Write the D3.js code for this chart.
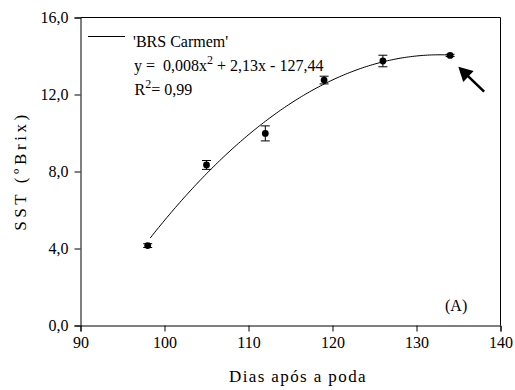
<!DOCTYPE html>
<html>
<head>
<meta charset="utf-8">
<script src="https://cdn.jsdelivr.net/npm/d3@7"></script>
<style>
  html, body { margin: 0; padding: 0; background: #fff; }
  svg text { font-family: "Liberation Serif", "Times New Roman", serif; fill: #000; white-space: pre; }
</style>
</head>
<body>
<svg id="chart" width="515" height="390"></svg>
<script>
// ---- data ----
const days = [98, 105, 112, 119, 126, 134];
const sst = [4.15, 8.34, 9.98, 12.75, 13.74, 14.03];
const sstError = [0.10, 0.23, 0.39, 0.20, 0.30, 0.06];
const xTicks = [90, 100, 110, 120, 130, 140];
const yTicks = [0, 4, 8, 12, 16];
// quadratic regression curve (a, b, c) for y = a x^2 + b x + c
const fitCoefficients = [-0.00801, 2.127, -127.14];
const fitRange = [98.3, 134];
const legendLabel = "'BRS Carmem'";
const panelLabel = "(A)";
const arrowFrom = [138.05, 12.15];
const arrowTo = [134.98, 13.44];

// ---- layout ----
const svg = d3.select("#chart");
const x = d3.scaleLinear().domain([90, 140]).range([80.5, 500.5]);
const y = d3.scaleLinear().domain([0, 16]).range([325.5, 17.5]);
const fmt = d => d3.format(".1f")(d).replace(".", ",");
const fontSize = 16;

// frame (top and right)
svg.append("line").attr("x1", x(90)).attr("x2", x(140)).attr("y1", y(16)).attr("y2", y(16))
  .attr("stroke", "#000").attr("stroke-width", 1);
svg.append("line").attr("x1", x(140)).attr("x2", x(140)).attr("y1", y(16)).attr("y2", y(0))
  .attr("stroke", "#000").attr("stroke-width", 1);

// axes
const xAxis = d3.axisBottom(x).tickValues(xTicks).tickSize(6).tickPadding(5).tickFormat(d3.format("d"));
const gx = svg.append("g").attr("transform", `translate(0,${y(0)})`).call(xAxis);
const yAxis = d3.axisLeft(y).tickValues(yTicks).tickSize(6).tickPadding(6).tickFormat(fmt);
const gy = svg.append("g").attr("transform", `translate(${x(90)},0)`).call(yAxis);
[gx, gy].forEach(g => {
  g.attr("font-family", null);
  g.select(".domain").attr("stroke", "#000");
  g.selectAll(".tick line").attr("stroke", "#000");
  g.selectAll(".tick text").style("font-family", "'Liberation Serif', serif").style("font-size", fontSize + "px").attr("fill", "#000");
});

// axis titles
svg.append("text").attr("x", 298).attr("y", 382).attr("text-anchor", "middle")
  .style("font-size", "17px").style("letter-spacing", "1.4px").text("Dias após a poda");
svg.append("text").attr("transform", "translate(26,171) rotate(-90)").attr("text-anchor", "middle")
  .style("font-size", "17px").style("letter-spacing", "3.6px").text("SST (ºBrix)");

// regression curve
const [a, b, c] = fitCoefficients;
const curveX = d3.range(fitRange[0], fitRange[1] + 0.001, 0.25);
const line = d3.line().x(d => x(d)).y(d => y(a * d * d + b * d + c)).curve(d3.curveMonotoneX);
svg.append("path").datum(curveX).attr("d", line).attr("fill", "none").attr("stroke", "#000").attr("stroke-width", 1);

// error bars
const pts = days.map((d, i) => ({ x: d, y: sst[i], e: sstError[i] }));
const eb = svg.append("g").attr("stroke", "#000").attr("stroke-width", 1);
pts.forEach(p => {
  eb.append("line").attr("x1", x(p.x)).attr("x2", x(p.x)).attr("y1", y(p.y - p.e)).attr("y2", y(p.y + p.e));
  [p.y - p.e, p.y + p.e].forEach(v => {
    eb.append("line").attr("x1", x(p.x) - 4.5).attr("x2", x(p.x) + 4.5).attr("y1", y(v)).attr("y2", y(v));
  });
});
svg.append("g").selectAll("circle").data(pts).join("circle")
  .attr("cx", d => x(d.x)).attr("cy", d => y(d.y)).attr("r", 3.4).attr("fill", "#000");

// legend
svg.append("line").attr("x1", 88).attr("x2", 125).attr("y1", 36.5).attr("y2", 36.5).attr("stroke", "#000").attr("stroke-width", 1);
svg.append("text").attr("x", 133).attr("y", 46.5).style("font-size", fontSize + "px").text(legendLabel);
const eq = svg.append("text").attr("x", 134).attr("y", 71).style("font-size", fontSize + "px");
eq.append("tspan").text("y =  0,008x");
eq.append("tspan").attr("dy", -7).style("font-size", "12px").text("2");
eq.append("tspan").attr("dy", 7).text(" + 2,13x - 127,44");
const r2 = svg.append("text").attr("x", 134.5).attr("y", 95).style("font-size", fontSize + "px");
r2.append("tspan").text("R");
r2.append("tspan").attr("dy", -7).style("font-size", "12px").text("2");
r2.append("tspan").attr("dy", 7).text("= 0,99");

// panel label
svg.append("text").attr("x", 445).attr("y", 310.5).style("font-size", fontSize + "px").text(panelLabel);

// arrow
const tx = x(arrowTo[0]), ty = y(arrowTo[1]);
const fx = x(arrowFrom[0]), fy = y(arrowFrom[1]);
const len = Math.hypot(tx - fx, ty - fy);
const ux = (tx - fx) / len, uy = (ty - fy) / len;
const headLen = 14, headHalf = 7.5;
const bx = tx - ux * headLen, by = ty - uy * headLen;
svg.append("line").attr("x1", fx).attr("y1", fy).attr("x2", bx + ux * 2).attr("y2", by + uy * 2)
  .attr("stroke", "#000").attr("stroke-width", 2.6);
svg.append("path")
  .attr("d", `M${tx},${ty}L${bx - uy * headHalf},${by + ux * headHalf}L${bx + uy * headHalf},${by - ux * headHalf}Z`)
  .attr("fill", "#000");
</script>
</body>
</html>
